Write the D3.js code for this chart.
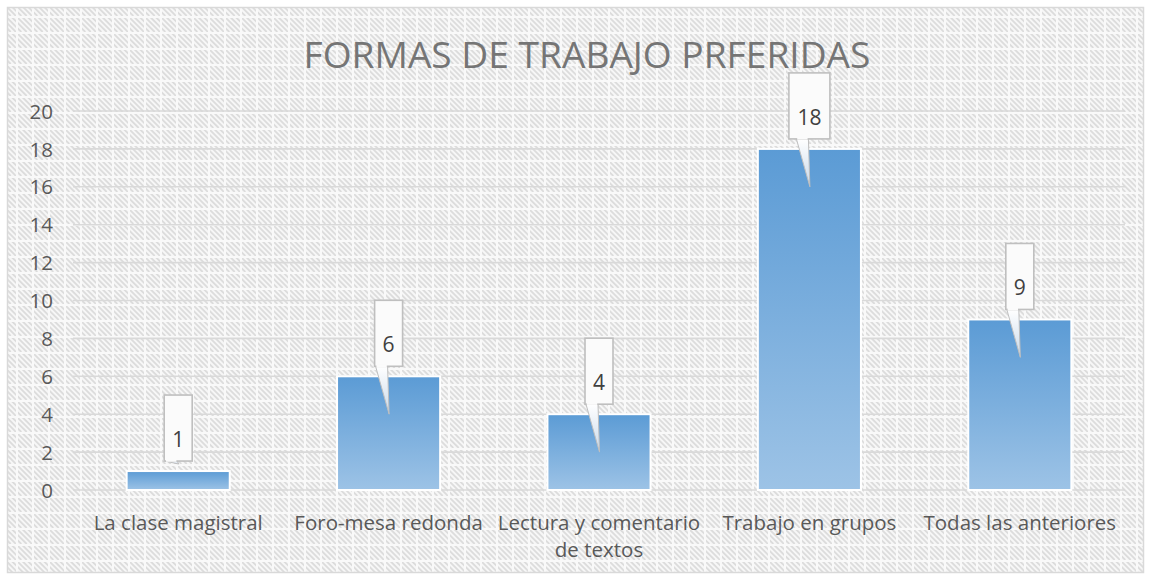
<!DOCTYPE html>
<html><head><meta charset="utf-8">
<script src="https://cdn.jsdelivr.net/npm/d3@7"></script>
<style>
html,body{margin:0;padding:0;background:#fff;}
svg{display:block;}
text{font-family:"Open Sans","Noto Sans",sans-serif;}
</style></head>
<body>
<svg id="c" width="1151" height="580"></svg>
<script>
const title = "FORMAS DE TRABAJO PRFERIDAS";
const categories = ["La clase magistral","Foro-mesa redonda","Lectura y comentario de textos","Trabajo en grupos","Todas las anteriores"];
const categoryLines = [["La clase magistral"],["Foro-mesa redonda"],["Lectura y comentario","de textos"],["Trabajo en grupos"],["Todas las anteriores"]];
const values = [1,6,4,18,9];
const yTicks = [0,2,4,6,8,10,12,14,16,18,20];

const svg = d3.select("#c");
const defs = svg.append("defs");

// background pattern
const pat = defs.append("pattern").attr("id","bg").attr("patternUnits","userSpaceOnUse")
  .attr("width",16).attr("height",16);
pat.append("rect").attr("width",16).attr("height",16).attr("fill","#f7f7f7");
for (let k=-3;k<=6;k++){
  const o = k*16/3;
  pat.append("line").attr("x1",o).attr("y1",0).attr("x2",o+16).attr("y2",16)
    .attr("stroke","#dcdcdc").attr("stroke-width",1.8);
}
pat.append("line").attr("x1",0).attr("y1",1).attr("x2",16).attr("y2",1).attr("stroke","#f9f9f9").attr("stroke-width",2);
pat.append("line").attr("x1",1).attr("y1",0).attr("x2",1).attr("y2",16).attr("stroke","#f9f9f9").attr("stroke-width",2);

const grad = defs.append("linearGradient").attr("id","barg").attr("x1",0).attr("y1",0).attr("x2",0).attr("y2",1);
grad.append("stop").attr("offset","0%").attr("stop-color","#5b9bd5");
grad.append("stop").attr("offset","100%").attr("stop-color","#9dc3e6");

const pgrad = defs.append("linearGradient").attr("id","ptr").attr("x1",0).attr("y1",0).attr("x2",0).attr("y2",1);
pgrad.append("stop").attr("offset","0%").attr("stop-color","#ffffff");
pgrad.append("stop").attr("offset","100%").attr("stop-color","#c9d9ea");

svg.append("rect").attr("x",7.5).attr("y",7.5).attr("width",1136).attr("height",565)
  .attr("fill","url(#bg)").attr("stroke","#d9d9d9").attr("stroke-width",1.5);

const x = d3.scaleBand().domain(categories).range([73,1125]).padding(0);
const y = d3.scaleLinear().domain([0,20]).range([490,111]);
const barW = x.bandwidth()*0.49;

// gridlines
svg.append("g").selectAll("line").data(yTicks).join("line")
  .attr("x1",73).attr("x2",1125).attr("y1",d=>y(d)).attr("y2",d=>y(d))
  .attr("stroke","#d9d9d9").attr("stroke-width",1.6);

// y axis labels
const yAxis = d3.axisLeft(y).tickValues(yTicks).tickSize(0).tickPadding(0);
const yg = svg.append("g").attr("transform","translate(53,0)").call(yAxis);
yg.select(".domain").remove();
yg.selectAll("text").attr("font-size",20.5).attr("fill","#595959")
  .attr("font-family",'"Open Sans","Noto Sans",sans-serif').attr("dy","0.35em");

// bars
svg.append("g").selectAll("rect").data(values).join("rect")
  .attr("x",(d,i)=>x(categories[i])+x.bandwidth()/2-barW/2)
  .attr("y",d=>y(d))
  .attr("width",barW).attr("height",d=>y(0)-y(d))
  .attr("fill","url(#barg)").attr("stroke","#ffffff").attr("stroke-width",2);

// x labels
const xl = svg.append("g");
categoryLines.forEach((lines,i)=>{
  const cx = x(categories[i])+x.bandwidth()/2;
  lines.forEach((ln,j)=>{
    xl.append("text").attr("x",cx).attr("y",530+j*27).attr("text-anchor","middle")
      .attr("font-size",20.5).attr("fill","#595959").text(ln);
  });
});

// callouts
const cg = svg.append("g");
values.forEach((v,i)=>{
  const cx = x(categories[i])+x.bandwidth()/2;
  const label = String(v);
  const bw = label.length>1 ? 41 : 28;
  const bottom = y(v)-10;
  const top = bottom-66;
  const left = cx-bw/2;
  const tipY = v>=3 ? y(v-2) : bottom+3;
  const g = cg.append("g");
  g.append("path")
    .attr("d",`M${cx-13},${bottom} L${cx+0.5},${tipY} L${cx-1},${bottom} Z`)
    .attr("fill","url(#ptr)").attr("stroke","#bfbfbf").attr("stroke-width",1);
  g.append("rect").attr("x",left).attr("y",top).attr("width",bw).attr("height",66)
    .attr("fill","#fbfbfb").attr("stroke","#bfbfbf").attr("stroke-width",1.6);
  g.append("rect").attr("x",cx-12.2).attr("y",bottom-1.5).attr("width",10.4).attr("height",2.2).attr("fill","#fbfbfb");
  g.append("text").attr("x",cx).attr("y",bottom-14).attr("text-anchor","middle")
    .attr("font-size",21).attr("fill","#404040").text(label);
});

// title
const t = svg.append("text").attr("x",587).attr("y",68).attr("text-anchor","middle")
  .attr("font-size",36).attr("fill","#757575").text(title);
const w = t.node().getComputedTextLength();
t.attr("font-size",36*567/w);
</script>
</body></html>
